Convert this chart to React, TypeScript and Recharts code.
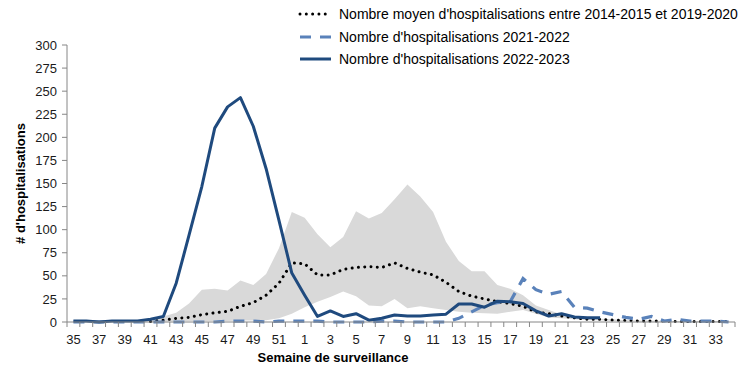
import React from "react";
import { ComposedChart, Line, Area, XAxis, YAxis, Legend } from "recharts";

// ---- Data ----
const weekLabels = [
  "35", "36", "37", "38", "39", "40", "41", "42", "43", "44", "45", "46", "47", "48", "49", "50", "51", "52",
  "1", "2", "3", "4", "5", "6", "7", "8", "9", "10", "11", "12", "13", "14", "15", "16", "17",
  "18", "19", "20", "21", "22", "23", "24", "25", "26", "27", "28", "29", "30", "31", "32", "33", "34",
];

// Mean number of hospitalisations 2014-2015 to 2019-2020
const avgValues: (number | null)[] = [
  null, null, null, null, null, null, 0.5, 2, 4, 5, 8, 10, 11.5, 17, 21, 29, 42, 64,
  63, 51, 51, 57, 59, 60, 59, 64, 58, 54, 51, 43, 33, 28, 25, 22, 20,
  17, 11, 9, 6.5, 4.5, 3, 3, 2, 1.5, 1, 1, 1, 0.5, 0.5, 0.5, 0.5, 0.5,
];

// Min / max range of the historical seasons (grey band)
const bandLow: (number | null)[] = [
  null, null, null, null, null, null, 0, 0.5, 1, 1, 1, 1, 1, 1.5, 1.5, 2, 4, 9,
  16, 22, 27, 33, 28, 18, 17, 25, 15, 17, 15, 13, 11, 10, 9.5, 9, 11,
  13, 9, 5, 4, 3, 2, 2, 1, 1, 0.5, 0.5, 0.5, 0, 0, 0, 0, 0,
];
const bandHigh: (number | null)[] = [
  null, null, null, null, null, null, 1, 6, 10, 20, 35, 36, 34, 45, 40, 52, 80, 119,
  113, 95, 81, 92, 120, 112, 118, 133, 149, 136, 119, 87, 66, 55, 55, 40, 36,
  29, 18, 13, 8, 6, 4, 3.5, 3, 2, 1.5, 1.5, 1, 1, 1, 1, 1, 1,
];

// Season 2021-2022
const season2122: (number | null)[] = [
  0, 0, 0, 0, 0, 0, 0, 0, 0, 0, 0, 0, 1, 1, 1, 0, 1, 1,
  1, 1, 0, 0, 0, 0, 1, 1, 0, 0, 0, 0, 4, 11, 18, 21, 22,
  47, 35, 30, 33, 16, 15, 11, 8, 5, 3, 6, 1, 3, 1, 1, 1, 0,
];

// Season 2022-2023
const season2223: (number | null)[] = [
  1, 1, 0, 1, 1, 1, 3, 6, 42, 94, 147, 210, 233, 243, 212, 166, 110, 53,
  29, 6, 12, 6, 9, 2, 4, 7.5, 6.5, 6.5, 7.5, 8.5, 19.5, 19.5, 16, 22.5, 22,
  20, 12, 6.5, 9, 5.5, 4.7, 4.7, null, null, null, null, null, null, null, null, null, null,
];

const yTicks = [0, 25, 50, 75, 100, 125, 150, 175, 200, 225, 250, 275, 300];

const seriesNames = {
  avg: "Nombre moyen d'hospitalisations entre 2014-2015 et 2019-2020",
  s2122: "Nombre d'hospitalisations 2021-2022",
  s2223: "Nombre d'hospitalisations 2022-2023",
};

const data = weekLabels.map((w, i) => ({
  week: w,
  avg: avgValues[i],
  band: bandLow[i] == null || bandHigh[i] == null ? null : [bandLow[i], bandHigh[i]],
  s2122: season2122[i],
  s2223: season2223[i],
}));

// ---- Layout / style ----
const W = 756;
const H = 378;
const MARGIN = { top: 45, right: 21, left: 0, bottom: 26 };
const Y_AXIS_W = 67;
const X_AXIS_H = 30;
const PLOT_LEFT = MARGIN.left + Y_AXIS_W;
const PLOT_RIGHT = W - MARGIN.right;
const PLOT_BOTTOM = H - MARGIN.bottom - X_AXIS_H;
const BAND = (PLOT_RIGHT - PLOT_LEFT) / weekLabels.length;

const FONT = "'Liberation Sans', Arial, Helvetica, sans-serif";
const AXIS_COLOR = "#868686";
const TEXT_COLOR = "#1a1a1a";
const NAVY = "#1F4A7E";
const LIGHT_BLUE = "#5A82BA";
const GREY = "#D9D9D9";

const XTick = (props: any) => {
  const { x, payload } = props;
  const idx = payload.index;
  const left = x - BAND / 2;
  return (
    <g>
      <line x1={left} x2={left} y1={PLOT_BOTTOM} y2={PLOT_BOTTOM + 5} stroke={AXIS_COLOR} strokeWidth={1} />
      {idx === weekLabels.length - 1 && (
        <line x1={x + BAND / 2} x2={x + BAND / 2} y1={PLOT_BOTTOM} y2={PLOT_BOTTOM + 5} stroke={AXIS_COLOR} strokeWidth={1} />
      )}
      {idx % 2 === 0 && (
        <text x={x} y={PLOT_BOTTOM + 22} textAnchor="middle" fontSize={13} fontFamily={FONT} fill={TEXT_COLOR}>
          {payload.value}
        </text>
      )}
    </g>
  );
};

const legendItems = [
  { key: "avg", color: "#000", dash: "0.01 6.3", width: 3, cap: "round" as const },
  { key: "s2122", color: LIGHT_BLUE, dash: "11 9", width: 3.2, cap: "butt" as const },
  { key: "s2223", color: NAVY, dash: undefined, width: 3, cap: "butt" as const },
];

const LegendContent = () => (
  <div style={{ fontFamily: FONT, fontSize: 14, color: "#000" }}>
    {legendItems.map((it) => (
      <div key={it.key} style={{ display: "flex", alignItems: "center", height: 22.5 }}>
        <svg width={34} height={10} style={{ display: "block" }}>
          <line
            x1={2}
            x2={33}
            y1={5}
            y2={5}
            stroke={it.color}
            strokeWidth={it.width}
            strokeDasharray={it.dash}
            strokeLinecap={it.cap}
          />
        </svg>
        <span style={{ marginLeft: 7, whiteSpace: "nowrap" }}>{(seriesNames as any)[it.key]}</span>
      </div>
    ))}
  </div>
);

export default function App() {
  return (
    <div style={{ position: "absolute", left: 0, top: 0, width: W, height: H, background: "#fff" }}>
      <ComposedChart width={W} height={H} data={data} margin={MARGIN}>
        <XAxis
          dataKey="week"
          interval={0}
          tickLine={false}
          padding={{ left: BAND / 2, right: BAND / 2 }}
          axisLine={{ stroke: AXIS_COLOR }}
          height={X_AXIS_H}
          tick={<XTick />}
          label={{
            content: (p: any) => {
              const vb = p.viewBox || {};
              return (
                <text
                  x={(PLOT_LEFT + PLOT_RIGHT) / 2 - 68}
                  y={PLOT_BOTTOM + 40}
                  textAnchor="middle"
                  fontSize={13}
                  fontWeight="bold"
                  fontFamily={FONT}
                  fill="#000"
                >
                  Semaine de surveillance
                </text>
              );
            },
          }}
        />
        <YAxis
          width={Y_AXIS_W}
          domain={[0, 300]}
          ticks={yTicks}
          interval={0}
          tickSize={5}
          tickMargin={5}
          axisLine={{ stroke: AXIS_COLOR }}
          tickLine={{ stroke: AXIS_COLOR }}
          tick={{ fontSize: 13, fontFamily: FONT, fill: TEXT_COLOR }}
          label={{
            content: (p: any) => {
              const vb = p.viewBox || {};
              const cy = vb.y + vb.height / 2;
              return (
                <text
                  x={20}
                  y={cy}
                  transform={`rotate(-90, 20, ${cy})`}
                  textAnchor="middle"
                  dominantBaseline="central"
                  fontSize={13}
                  fontWeight="bold"
                  fontFamily={FONT}
                  fill="#000"
                >
                  # d'hospitalisations
                </text>
              );
            },
          }}
        />
        <Legend
          verticalAlign="middle"
          layout="horizontal"
          content={<LegendContent />}
          wrapperStyle={{ top: 3, left: 298, width: 460, height: 70 }}
        />
        <Area
          dataKey="band"
          type="linear"
          stroke="none"
          fill={GREY}
          fillOpacity={1}
          isAnimationActive={false}
          legendType="none"
          activeDot={false}
        />
        <Line
          dataKey="avg"
          type="linear"
          stroke="#000"
          strokeWidth={3}
          strokeDasharray="0.01 6.3"
          strokeLinecap="round"
          dot={false}
          activeDot={false}
          isAnimationActive={false}
        />
        <Line
          dataKey="s2122"
          type="linear"
          stroke={LIGHT_BLUE}
          strokeWidth={3.2}
          strokeDasharray="11 9"
          dot={false}
          activeDot={false}
          isAnimationActive={false}
        />
        <Line
          dataKey="s2223"
          type="linear"
          stroke={NAVY}
          strokeWidth={3}
          strokeLinejoin="round"
          dot={false}
          activeDot={false}
          isAnimationActive={false}
        />
      </ComposedChart>
    </div>
  );
}
